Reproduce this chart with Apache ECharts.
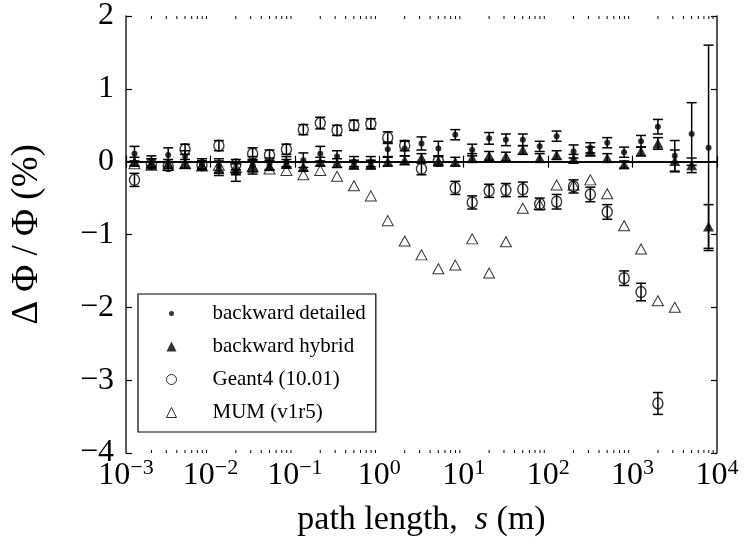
<!DOCTYPE html>
<html>
<head>
<meta charset="utf-8">
<script src="https://cdn.jsdelivr.net/npm/echarts@6/dist/echarts.min.js"></script>
<style>
  html, body { margin: 0; padding: 0; background: #fff; }
  #main { width: 744px; height: 550px; }
</style>
</head>
<body>
<div id="main"></div>
<script>
let log = console.log.bind(console)

// path length s (m), same grid for every series
const pathLen = [0.00126, 0.00200, 0.00316, 0.00501, 0.00794,
  0.0126, 0.0200, 0.0316, 0.0501, 0.0794,
  0.126, 0.200, 0.316, 0.501, 0.794,
  1.26, 2.00, 3.16, 5.01, 7.94,
  12.6, 20.0, 31.6, 50.1, 79.4,
  126, 200, 316, 501, 794,
  1259, 1995, 3162, 5012, 7943]

// backward detailed
const detVal = [0.11, 0.01, 0.09, 0.07, -0.03, -0.06, -0.15, -0.05, -0.03, 0.00,
  0.02, 0.11, 0.07, 0.00, 0.00, 0.17, 0.18, 0.25, 0.18, 0.37,
  0.16, 0.32, 0.30, 0.30, 0.21, 0.35, 0.14, 0.19, 0.26, 0.13,
  0.28, 0.48, 0.08, 0.38, 0.19]
const detErr = [0.10, 0.07, 0.10, 0.08, 0.07, 0.10, 0.12, 0.12, 0.08, 0.07,
  0.10, 0.10, 0.08, 0.07, 0.07, 0.10, 0.10, 0.09, 0.10, 0.07,
  0.08, 0.08, 0.08, 0.08, 0.07, 0.07, 0.09, 0.07, 0.07, 0.07,
  0.08, 0.10, 0.21, 0.43, 1.41]

// backward hybrid
const hybVal = [0.00, -0.02, -0.03, -0.03, -0.05, -0.09, -0.10, -0.06, -0.06, -0.03,
  -0.07, 0.00, -0.02, -0.04, -0.04, 0.00, 0.02, 0.05, 0.01, 0.00,
  0.05, 0.08, 0.07, 0.16, 0.05, 0.09, 0.04, 0.14, 0.05, -0.04,
  0.14, 0.25, 0.01, -0.05, -0.89]
const hybErr = [0.06, 0.06, 0.06, 0.06, 0.06, 0.10, 0.08, 0.08, 0.06, 0.06,
  0.06, 0.06, 0.06, 0.06, 0.06, 0.06, 0.06, 0.06, 0.06, 0.06,
  0.06, 0.06, 0.06, 0.06, 0.06, 0.06, 0.06, 0.06, 0.06, 0.05,
  0.06, 0.08, 0.15, 0.10, 0.30]

// Geant4 (10.01)
const g4Val = [-0.25, -0.03, -0.06, 0.17, -0.05, 0.22, -0.04, 0.11, 0.09, 0.17,
  0.44, 0.53, 0.43, 0.50, 0.52, 0.33, 0.22, -0.10, 0.01, -0.36,
  -0.56, -0.40, -0.39, -0.38, -0.58, -0.55, -0.34, -0.45, -0.69, -1.60,
  -1.79, -3.32]
const g4Err = [0.09, 0.07, 0.06, 0.07, 0.06, 0.07, 0.07, 0.08, 0.07, 0.07,
  0.07, 0.08, 0.07, 0.07, 0.07, 0.08, 0.07, 0.08, 0.07, 0.09,
  0.09, 0.09, 0.09, 0.10, 0.08, 0.10, 0.09, 0.10, 0.10, 0.10,
  0.12, 0.15]

// MUM (v1r5), no error bars
const mumVal = [-0.03, -0.05, -0.05, -0.03, -0.06, -0.05, -0.08, -0.07, -0.10, -0.12,
  -0.18, -0.12, -0.20, -0.33, -0.47, -0.81, -1.09, -1.28, -1.47, -1.42,
  -1.06, -1.53, -1.10, -0.64, -0.59, -0.32, -0.32, -0.25, -0.44, -0.88,
  -1.20, -1.91, -2.00]

const yTicks = [-4, -3, -2, -1, 0, 1, 2]

// matplotlib style minor ticks 2..9 per decade
let minorTicks = []
for (let k = -3; k < 4; k++) {
    for (let m = 2; m < 10; m++) {
        minorTicks.push(m * Math.pow(10, k))
    }
}

const serif = 'Liberation Serif'
const black = '#000'

let pairs = function(ys) {
    return ys.map((y, i) => [pathLen[i], y])
}

let errBars = function(name, ys, es, z) {
    return {
        type: 'custom',
        name: name + ' err',
        silent: true,
        z: z,
        data: ys.map((y, i) => [pathLen[i], y, es[i]]),
        renderItem: function(params, api) {
            let x = api.value(0)
            let y = api.value(1)
            let e = api.value(2)
            let lo = api.coord([x, y - e])
            let hi = api.coord([x, y + e])
            let c = 5
            let st = { stroke: black, lineWidth: 1.5 }
            return {
                type: 'group',
                children: [
                    { type: 'line', shape: { x1: lo[0], y1: lo[1], x2: hi[0], y2: hi[1] }, style: st },
                    { type: 'line', shape: { x1: lo[0] - c, y1: lo[1], x2: lo[0] + c, y2: lo[1] }, style: st },
                    { type: 'line', shape: { x1: hi[0] - c, y1: hi[1], x2: hi[0] + c, y2: hi[1] }, style: st },
                ]
            }
        }
    }
}

let xLabel = function(v) {
    let e = Math.round(Math.log10(v))
    let s = e < 0 ? '−' + Math.abs(e) : '' + e
    return '{b|10}{s|' + s + '}'
}

let yLabel = function(v) {
    return v < 0 ? '−' + Math.abs(v) : '' + v
}

let chart = function() {
    let myChart = echarts.init(document.getElementById('main'))
    let option = {
        animation: false,
        backgroundColor: '#fff',
        grid: { left: 126, right: 27, top: 15, bottom: 97 },
        legend: {
            orient: 'vertical',
            left: 138,
            top: 294,
            padding: [9, 10, 9, 28],
            itemWidth: 10,
            itemHeight: 10,
            itemGap: 12,
            borderColor: black,
            borderWidth: 1.2,
            borderRadius: 0,
            textStyle: {
                fontFamily: serif,
                fontSize: 21,
                color: black,
                rich: { t: { fontFamily: serif, fontSize: 21, color: black, padding: [0, 0, 0, 31] } }
            },
            formatter: function(name) {
                return '{t|' + name + '}'
            },
            data: [
                { name: 'backward detailed', icon: 'path://M0,0M20,20M5,10a5,5 0 1,0 10,0a5,5 0 1,0 -10,0z' },
                { name: 'backward hybrid' },
                { name: 'Geant4 (10.01)', itemStyle: { color: 'transparent', borderColor: black, borderWidth: 1 } },
                { name: 'MUM (v1r5)', itemStyle: { color: 'transparent', borderColor: black, borderWidth: 1 } },
            ]
        },
        xAxis: [
            {
                type: 'log',
                logBase: 10,
                min: 0.001,
                max: 10000,
                position: 'bottom',
                name: '{r|path length,  }{i|s}{r| (m)}',
                nameLocation: 'middle',
                nameGap: 50,
                nameTextStyle: {
                    rich: {
                        r: { fontFamily: serif, fontSize: 34, color: black },
                        i: { fontFamily: serif, fontSize: 34, fontStyle: 'italic', color: black },
                    }
                },
                axisLine: { lineStyle: { color: '#222', width: 1.5 } },
                axisTick: { inside: true, length: 6, lineStyle: { color: black, width: 1.2 } },
                splitLine: { show: false },
                axisLabel: {
                    margin: 4,
                    formatter: xLabel,
                    rich: {
                        b: { fontFamily: serif, fontSize: 32, color: black, lineHeight: 38 },
                        s: { fontFamily: serif, fontSize: 22, color: black, lineHeight: 22, verticalAlign: 'top' },
                    }
                }
            },
            {
                type: 'log',
                logBase: 10,
                min: 0.001,
                max: 10000,
                position: 'top',
                axisLine: { lineStyle: { color: '#222', width: 1.5 } },
                axisTick: { inside: true, length: 6, lineStyle: { color: black, width: 1.2 } },
                axisLabel: { show: false },
                splitLine: { show: false },
            }
        ],
        yAxis: [
            {
                type: 'value',
                min: -4,
                max: 2,
                interval: 1,
                name: 'Δ Φ / Φ (%)',
                nameLocation: 'middle',
                nameGap: 80,
                nameTextStyle: { fontFamily: serif, fontSize: 37, color: black },
                axisLine: { show: true, lineStyle: { color: '#222', width: 1.5 } },
                axisTick: { show: true, inside: true, length: 6, lineStyle: { color: black, width: 1.2 } },
                splitLine: { show: false },
                axisLabel: { margin: 12, fontFamily: serif, fontSize: 32, color: black, formatter: yLabel }
            },
            {
                type: 'value',
                min: -4,
                max: 2,
                interval: 1,
                position: 'right',
                axisLine: { show: true, lineStyle: { color: '#222', width: 1.5 } },
                axisTick: { show: true, inside: true, length: 6, lineStyle: { color: black, width: 1.2 } },
                axisLabel: { show: false },
                splitLine: { show: false },
            }
        ],
        series: [
            {
                // minor ticks on bottom and top axes
                type: 'custom',
                name: 'minor',
                silent: true,
                z: 1,
                data: minorTicks.map(x => [x]),
                renderItem: function(params, api) {
                    let b = api.coord([api.value(0), -4])
                    let t = api.coord([api.value(0), 2])
                    let st = { stroke: black, lineWidth: 1 }
                    return {
                        type: 'group',
                        children: [
                            { type: 'line', shape: { x1: b[0], y1: b[1], x2: b[0], y2: b[1] - 3 }, style: st },
                            { type: 'line', shape: { x1: t[0], y1: t[1], x2: t[0], y2: t[1] + 3 }, style: st },
                        ]
                    }
                }
            },
            errBars('backward detailed', detVal, detErr, 2),
            {
                type: 'scatter',
                name: 'backward detailed',
                z: 3,
                symbol: 'circle',
                symbolSize: 6,
                itemStyle: { color: black },
                data: pairs(detVal),
                markLine: {
                    silent: true,
                    symbol: 'none',
                    label: { show: false },
                    lineStyle: { color: black, width: 1.5, type: 'solid' },
                    data: [{ yAxis: 0 }]
                }
            },
            errBars('backward hybrid', hybVal, hybErr, 4),
            {
                type: 'scatter',
                name: 'backward hybrid',
                z: 5,
                symbol: 'triangle',
                symbolSize: [11, 10],
                itemStyle: { color: black },
                data: pairs(hybVal),
            },
            errBars('Geant4 (10.01)', g4Val, g4Err, 6),
            {
                type: 'scatter',
                name: 'Geant4 (10.01)',
                z: 7,
                symbol: 'circle',
                symbolSize: [10, 11],
                itemStyle: { color: 'transparent', borderColor: black, borderWidth: 1.4 },
                data: pairs(g4Val),
            },
            {
                type: 'scatter',
                name: 'MUM (v1r5)',
                z: 8,
                symbol: 'triangle',
                symbolSize: [11, 10],
                itemStyle: { color: 'transparent', borderColor: black, borderWidth: 1 },
                data: pairs(mumVal),
            },
        ]
    }
    myChart.setOption(option)
}
chart()
</script>
</body>
</html>
